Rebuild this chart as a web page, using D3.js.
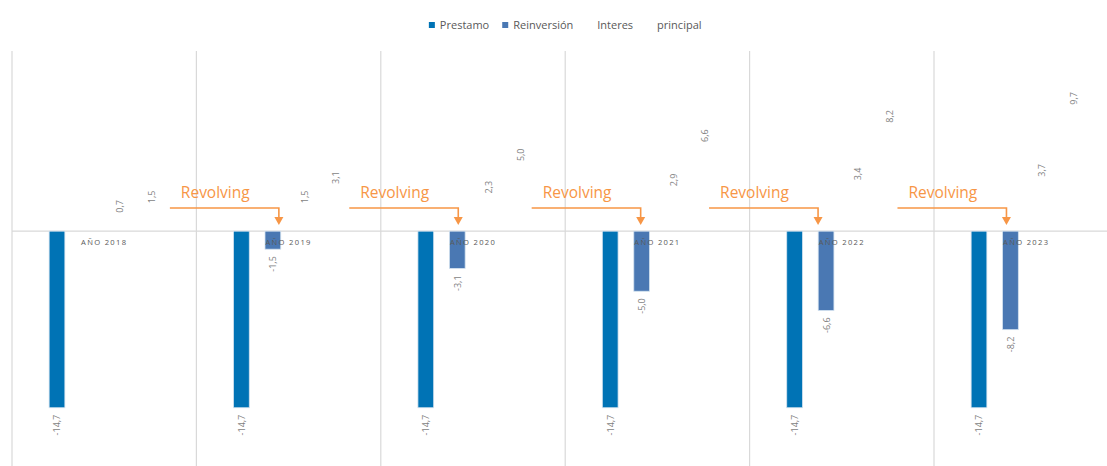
<!DOCTYPE html>
<html>
<head>
<meta charset="utf-8">
<script src="https://cdn.jsdelivr.net/npm/d3@7/dist/d3.min.js"></script>
<style>
  html, body { margin: 0; padding: 0; background: #ffffff; }
  svg { display: block; }
  text { font-family: "Open Sans", "Noto Sans", sans-serif; }
</style>
</head>
<body>
<svg id="chart" width="1107" height="466"></svg>
<script>
// ---- data ----
const categories = ["AÑO 2018", "AÑO 2019", "AÑO 2020", "AÑO 2021", "AÑO 2022", "AÑO 2023"];
const seriesNames = ["Prestamo", "Reinversión", "Interes", "principal"];
const prestamo    = [-14.7, -14.7, -14.7, -14.7, -14.7, -14.7];
const reinversion = [0, -1.5, -3.1, -5.0, -6.6, -8.2];
const interes     = [0.7, 1.5, 2.3, 2.9, 3.4, 3.7];
const principal   = [1.5, 3.1, 5.0, 6.6, 8.2, 9.7];
const calloutText = "Revolving";
const calloutCategories = ["AÑO 2019", "AÑO 2020", "AÑO 2021", "AÑO 2022", "AÑO 2023"];

// ---- styling ----
const seriesColor = {
  "Prestamo": "#0073b5",
  "Reinversión": "#4a78b3",
  "Interes": "none",
  "principal": "none"
};
const gridColor = "#d9d9d9";
const textColor = "#595959";
const labelColor = "#7f7f7f";
const orange = "#f79646";

const values = {
  "Prestamo": prestamo,
  "Reinversión": reinversion,
  "Interes": interes,
  "principal": principal
};

const rows = [];
categories.forEach((c, i) => {
  seriesNames.forEach(s => rows.push({ cat: c, series: s, value: values[s][i] }));
});

const svg = d3.select("#chart");

// ---- scales ----
const catW = 184.4;
const plotLeft = 12, plotTop = 51;
const x0 = d3.scaleBand().domain(categories)
  .range([plotLeft, plotLeft + catW * categories.length]).padding(0);
const x1 = d3.scaleBand().domain(seriesNames)
  .range([0, x0.bandwidth()]).paddingInner(0.5).paddingOuter(1.18);
const y = d3.scaleLinear().domain([-20, 15]).range([471.4, plotTop]);
// one decimal, comma separator, plain hyphen for negatives
const fmt = v => d3.format(".1f")(v).replace(".", ",").replace("\u2212", "-");

// ---- gridlines (category separators) ----
svg.append("g").selectAll("line")
  .data(categories.concat(["__end"]))
  .join("line")
  .attr("x1", (d, i) => plotLeft + i * x0.bandwidth())
  .attr("x2", (d, i) => plotLeft + i * x0.bandwidth())
  .attr("y1", plotTop).attr("y2", 471)
  .attr("stroke", gridColor).attr("stroke-width", 1.2);

// ---- zero axis line ----
svg.append("line")
  .attr("x1", plotLeft).attr("x2", 1107)
  .attr("y1", y(0)).attr("y2", y(0))
  .attr("stroke", gridColor).attr("stroke-width", 1.2);

// ---- bars ----
svg.append("g").selectAll("rect")
  .data(rows.filter(r => seriesColor[r.series] !== "none" && r.value !== 0))
  .join("rect")
  .attr("x", d => x0(d.cat) + x1(d.series))
  .attr("width", x1.bandwidth())
  .attr("y", d => y(Math.max(0, d.value)))
  .attr("height", d => Math.abs(y(d.value) - y(0)))
  .attr("fill", d => seriesColor[d.series])
  .attr("stroke", "#d3e2ef").attr("stroke-width", 0.8);

// ---- value labels (rotated) ----
svg.append("g").selectAll("text")
  .data(rows.filter(r => r.value !== 0))
  .join("text")
  .attr("transform", d => {
    const cx = x0(d.cat) + x1(d.series) + x1.bandwidth() / 2;
    const cy = d.value > 0 ? y(d.value) - 10 : y(d.value) + 7;
    return `translate(${cx},${cy}) rotate(-90)`;
  })
  .attr("text-anchor", d => d.value > 0 ? "start" : "end")
  .attr("dominant-baseline", "central")
  .attr("font-size", 9)
  .attr("fill", labelColor)
  .text(d => fmt(d.value));

// ---- category labels ----
svg.append("g").selectAll("text")
  .data(categories)
  .join("text")
  .attr("x", d => x0(d) + x0.bandwidth() / 2)
  .attr("y", y(0) + 14)
  .attr("text-anchor", "middle")
  .attr("font-size", 7.6)
  .attr("letter-spacing", 1.3)
  .attr("fill", textColor)
  .text(d => d);

// ---- callouts ----
const calloutShift = [6, 1, -1, -8, -4];
const callouts = svg.append("g");
calloutCategories.forEach((c, i) => {
  const tip = x0(c) + x1("Reinversión") + x1.bandwidth() / 2 + calloutShift[i];
  const start = tip - 109;
  const lineY = 208;
  const tipY = 225;
  callouts.append("path")
    .attr("d", `M${start},${lineY} H${tip} V${tipY - 7}`)
    .attr("fill", "none").attr("stroke", orange).attr("stroke-width", 1.6);
  callouts.append("path")
    .attr("d", `M${tip - 4.5},${tipY - 8} L${tip + 4.5},${tipY - 8} L${tip},${tipY} Z`)
    .attr("fill", orange);
  callouts.append("text")
    .attr("x", start + 11).attr("y", 197.5)
    .attr("font-size", 15.5)
    .attr("fill", orange)
    .text(calloutText);
});

// ---- legend ----
const legend = svg.append("g");
const items = legend.selectAll("g").data(seriesNames).join("g");
items.append("rect").attr("width", 6).attr("height", 6).attr("y", 22)
  .attr("fill", d => seriesColor[d]);
items.append("text").attr("x", 11).attr("y", 29)
  .attr("font-size", 11).attr("fill", textColor).text(d => d);
const widths = [];
items.each(function () {
  const w = this.querySelector("text").getComputedTextLength();
  widths.push(11 + w);
});
const total = d3.sum(widths) + 13 * (widths.length - 1);
const plotCenter = plotLeft + catW * categories.length / 2;
let xpos = plotCenter - total / 2;
items.attr("transform", (d, i) => {
  const t = `translate(${xpos},0)`;
  xpos += widths[i] + 13;
  return t;
});
</script>
</body>
</html>
